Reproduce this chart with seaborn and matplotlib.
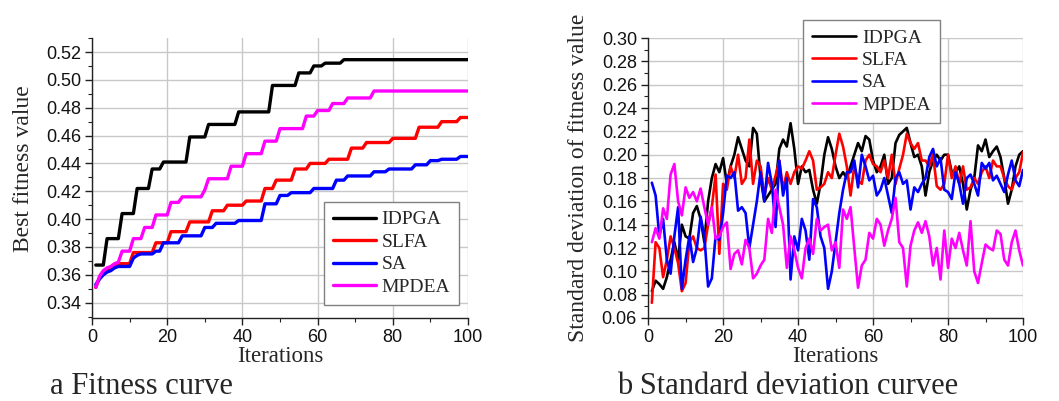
import matplotlib
matplotlib.use("Agg")
import matplotlib.pyplot as plt
from matplotlib.ticker import MultipleLocator, FormatStrFormatter
import pandas as pd
import seaborn as sns

# ---------------------------------------------------------------- data
iterations = list(range(1, 101))
algorithms = ["IDPGA", "SLFA", "SA", "MPDEA"]
palette = {"IDPGA": "#000000", "SLFA": "#ff0000", "SA": "#0000ff", "MPDEA": "#ff00ff"}

# best fitness value per iteration
best_idpga = [
    0.367, 0.367, 0.367, 0.386, 0.386, 0.386, 0.386, 0.404, 0.404, 0.404,
    0.404, 0.422, 0.422, 0.422, 0.422, 0.436, 0.436, 0.436, 0.441, 0.441,
    0.441, 0.441, 0.441, 0.441, 0.441, 0.459, 0.459, 0.459, 0.459, 0.459,
    0.468, 0.468, 0.468, 0.468, 0.468, 0.468, 0.468, 0.468, 0.477, 0.477,
    0.477, 0.477, 0.477, 0.477, 0.477, 0.477, 0.477, 0.496, 0.496, 0.496,
    0.496, 0.496, 0.496, 0.496, 0.505, 0.505, 0.505, 0.505, 0.510, 0.510,
    0.510, 0.512, 0.512, 0.512, 0.512, 0.512, 0.5145, 0.5145, 0.5145, 0.5145,
    0.5145, 0.5145, 0.5145, 0.5145, 0.5145, 0.5145, 0.5145, 0.5145, 0.5145, 0.5145,
    0.5145, 0.5145, 0.5145, 0.5145, 0.5145, 0.5145, 0.5145, 0.5145, 0.5145, 0.5145,
    0.5145, 0.5145, 0.5145, 0.5145, 0.5145, 0.5145, 0.5145, 0.5145, 0.5145, 0.5145,
]
best_slfa = [
    0.351, 0.358, 0.362, 0.364, 0.365, 0.367, 0.368, 0.368, 0.368, 0.368,
    0.376, 0.376, 0.376, 0.376, 0.376, 0.376, 0.383, 0.383, 0.383, 0.383,
    0.391, 0.391, 0.391, 0.391, 0.391, 0.398, 0.398, 0.398, 0.398, 0.398,
    0.398, 0.406, 0.406, 0.406, 0.406, 0.410, 0.410, 0.410, 0.410, 0.410,
    0.413, 0.413, 0.413, 0.413, 0.413, 0.422, 0.422, 0.422, 0.428, 0.428,
    0.428, 0.428, 0.428, 0.436, 0.436, 0.436, 0.436, 0.440, 0.440, 0.440,
    0.440, 0.440, 0.443, 0.443, 0.443, 0.443, 0.443, 0.443, 0.451, 0.451,
    0.451, 0.451, 0.455, 0.455, 0.455, 0.455, 0.455, 0.455, 0.455, 0.458,
    0.458, 0.458, 0.458, 0.458, 0.458, 0.458, 0.466, 0.466, 0.466, 0.466,
    0.466, 0.466, 0.470, 0.470, 0.470, 0.470, 0.470, 0.473, 0.473, 0.473,
]
best_sa = [
    0.353, 0.357, 0.360, 0.362, 0.363, 0.365, 0.366, 0.366, 0.366, 0.366,
    0.372, 0.374, 0.375, 0.375, 0.375, 0.375, 0.377, 0.377, 0.383, 0.383,
    0.383, 0.383, 0.383, 0.388, 0.388, 0.388, 0.388, 0.388, 0.388, 0.394,
    0.394, 0.394, 0.397, 0.397, 0.397, 0.397, 0.397, 0.397, 0.399, 0.399,
    0.399, 0.399, 0.399, 0.399, 0.399, 0.411, 0.411, 0.411, 0.411, 0.417,
    0.417, 0.417, 0.419, 0.419, 0.419, 0.419, 0.419, 0.419, 0.422, 0.422,
    0.422, 0.422, 0.422, 0.422, 0.428, 0.428, 0.428, 0.431, 0.431, 0.431,
    0.431, 0.431, 0.431, 0.431, 0.434, 0.434, 0.434, 0.434, 0.436, 0.436,
    0.436, 0.436, 0.436, 0.436, 0.436, 0.439, 0.439, 0.439, 0.439, 0.442,
    0.442, 0.442, 0.443, 0.443, 0.443, 0.443, 0.443, 0.445, 0.445, 0.445,
]
best_mpdea = [
    0.351, 0.359, 0.363, 0.365, 0.366, 0.368, 0.369, 0.377, 0.377, 0.377,
    0.386, 0.386, 0.386, 0.394, 0.394, 0.394, 0.403, 0.403, 0.403, 0.403,
    0.412, 0.412, 0.412, 0.416, 0.416, 0.416, 0.416, 0.416, 0.416, 0.421,
    0.429, 0.429, 0.429, 0.429, 0.429, 0.429, 0.438, 0.438, 0.438, 0.438,
    0.447, 0.447, 0.447, 0.447, 0.447, 0.456, 0.456, 0.456, 0.456, 0.465,
    0.465, 0.465, 0.465, 0.465, 0.465, 0.465, 0.474, 0.474, 0.474, 0.478,
    0.478, 0.478, 0.478, 0.483, 0.483, 0.483, 0.483, 0.487, 0.487, 0.487,
    0.487, 0.487, 0.487, 0.487, 0.492, 0.492, 0.492, 0.492, 0.492, 0.492,
    0.492, 0.492, 0.492, 0.492, 0.492, 0.492, 0.492, 0.492, 0.492, 0.492,
    0.492, 0.492, 0.492, 0.492, 0.492, 0.492, 0.492, 0.492, 0.492, 0.492,
]

# standard deviation of fitness value per iteration
std_idpga = [
    0.083, 0.092, 0.089, 0.085, 0.095, 0.110, 0.125, 0.110, 0.140, 0.130,
    0.128, 0.150, 0.156, 0.145, 0.125, 0.160, 0.180, 0.192, 0.185, 0.197,
    0.175, 0.190, 0.200, 0.215, 0.205, 0.195, 0.190, 0.223, 0.218, 0.180,
    0.160, 0.165, 0.170, 0.175, 0.205, 0.213, 0.207, 0.227, 0.205, 0.175,
    0.190, 0.185, 0.187, 0.170, 0.158, 0.175, 0.200, 0.215, 0.205, 0.190,
    0.180, 0.185, 0.180, 0.190, 0.200, 0.210, 0.203, 0.216, 0.213, 0.195,
    0.185, 0.190, 0.200, 0.175, 0.180, 0.210, 0.217, 0.220, 0.223, 0.210,
    0.198, 0.200, 0.190, 0.165, 0.185, 0.195, 0.200, 0.195, 0.200, 0.200,
    0.185, 0.185, 0.190, 0.175, 0.153, 0.170, 0.180, 0.208, 0.203, 0.213,
    0.198, 0.203, 0.207, 0.198, 0.180, 0.158, 0.170, 0.190, 0.200, 0.203,
]
std_slfa = [
    0.073, 0.125, 0.120, 0.095, 0.110, 0.130, 0.120, 0.107, 0.083, 0.090,
    0.125, 0.130, 0.120, 0.118, 0.120, 0.140, 0.155, 0.183, 0.115, 0.175,
    0.170, 0.190, 0.180, 0.200, 0.175, 0.180, 0.213, 0.175, 0.195, 0.190,
    0.165, 0.180, 0.170, 0.182, 0.195, 0.170, 0.185, 0.175, 0.185, 0.190,
    0.188, 0.195, 0.203, 0.195, 0.170, 0.172, 0.175, 0.185, 0.180, 0.200,
    0.218, 0.207, 0.190, 0.165, 0.190, 0.178, 0.175, 0.195, 0.200, 0.192,
    0.190, 0.185, 0.195, 0.180, 0.200, 0.175, 0.188, 0.200, 0.218, 0.210,
    0.205, 0.210, 0.195, 0.195, 0.190, 0.200, 0.173, 0.170, 0.175, 0.200,
    0.180, 0.190, 0.175, 0.190, 0.170, 0.172, 0.180, 0.175, 0.185, 0.190,
    0.180, 0.195, 0.190, 0.190, 0.180, 0.173, 0.170, 0.180, 0.185, 0.202,
]
std_sa = [
    0.176, 0.165, 0.130, 0.145, 0.110, 0.098, 0.130, 0.155, 0.085, 0.110,
    0.130, 0.108, 0.120, 0.147, 0.130, 0.087, 0.094, 0.130, 0.127, 0.150,
    0.182, 0.180, 0.185, 0.152, 0.155, 0.150, 0.120, 0.140, 0.160, 0.185,
    0.160, 0.193, 0.175, 0.138, 0.195, 0.165, 0.180, 0.093, 0.130, 0.118,
    0.145, 0.135, 0.110, 0.162, 0.155, 0.130, 0.120, 0.085, 0.100, 0.125,
    0.150, 0.170, 0.185, 0.185, 0.195, 0.172, 0.200, 0.190, 0.178, 0.182,
    0.165, 0.170, 0.180, 0.165, 0.150, 0.180, 0.185, 0.175, 0.178, 0.153,
    0.172, 0.168, 0.175, 0.180, 0.198, 0.205, 0.190, 0.197, 0.170, 0.168,
    0.162, 0.185, 0.175, 0.158, 0.180, 0.183, 0.175, 0.165, 0.193, 0.188,
    0.193, 0.178, 0.182, 0.175, 0.168, 0.183, 0.195, 0.178, 0.173, 0.187,
]
std_mpdea = [
    0.125, 0.137, 0.128, 0.154, 0.145, 0.183, 0.192, 0.160, 0.148, 0.172,
    0.163, 0.168, 0.160, 0.171, 0.155, 0.140, 0.155, 0.128, 0.130, 0.138,
    0.142, 0.102, 0.115, 0.118, 0.106, 0.127, 0.120, 0.094, 0.098, 0.105,
    0.110, 0.145, 0.133, 0.170, 0.155, 0.140, 0.103, 0.130, 0.118, 0.103,
    0.094, 0.120, 0.128, 0.115, 0.145, 0.135, 0.138, 0.140, 0.118, 0.125,
    0.103, 0.153, 0.145, 0.155, 0.120, 0.086, 0.105, 0.110, 0.133, 0.128,
    0.145, 0.140, 0.122, 0.135, 0.145, 0.163, 0.125, 0.120, 0.087, 0.122,
    0.135, 0.142, 0.133, 0.143, 0.130, 0.105, 0.120, 0.093, 0.135, 0.103,
    0.128, 0.120, 0.133, 0.118, 0.105, 0.143, 0.100, 0.090, 0.107, 0.123,
    0.120, 0.118, 0.135, 0.132, 0.110, 0.105, 0.125, 0.135, 0.118, 0.105,
]

best = {"IDPGA": best_idpga, "SLFA": best_slfa, "SA": best_sa, "MPDEA": best_mpdea}
std = {"IDPGA": std_idpga, "SLFA": std_slfa, "SA": std_sa, "MPDEA": std_mpdea}


def long_frame(series):
    rows = []
    for name in algorithms:
        for it, val in zip(iterations, series[name]):
            rows.append({"Iterations": it, "value": val, "Algorithm": name})
    return pd.DataFrame(rows)


df_best = long_frame(best)
df_std = long_frame(std)

# ---------------------------------------------------------------- style
sns.set_theme(style="white")
plt.rcParams["font.family"] = ["Liberation Sans", "DejaVu Sans"]
SERIF = ["Liberation Serif", "DejaVu Serif"]

fig = plt.figure(figsize=(10.59, 4.01), dpi=100)
ax1 = fig.add_axes([0.0869, 0.207, 0.355, 0.698])
ax2 = fig.add_axes([0.612, 0.207, 0.354, 0.698])


def style_axes(ax, ylim, ymajor):
    ax.set_xlim(0, 100)
    ax.set_ylim(*ylim)
    ax.xaxis.set_major_locator(MultipleLocator(20))
    ax.xaxis.set_minor_locator(MultipleLocator(10))
    ax.yaxis.set_major_locator(MultipleLocator(ymajor))
    ax.yaxis.set_minor_locator(MultipleLocator(ymajor / 2))
    ax.yaxis.set_major_formatter(FormatStrFormatter("%.2f"))
    ax.grid(True, which="major", color="#c8c8c8", linewidth=1.0)
    ax.set_axisbelow(True)
    for side in ("top", "right"):
        ax.spines[side].set_visible(False)
    for side in ("left", "bottom"):
        ax.spines[side].set_color("#222222")
        ax.spines[side].set_linewidth(1.0)
    ax.tick_params(which="both", direction="out", color="#222222",
                   left=True, bottom=True, labelsize=13, labelcolor="#111111")
    ax.tick_params(which="major", length=5, width=1.0, pad=3)
    ax.tick_params(which="minor", length=3, width=0.8)


# ---------------------------------------------------------------- a: best fitness
sns.lineplot(data=df_best, x="Iterations", y="value", hue="Algorithm",
             hue_order=algorithms, palette=palette, linewidth=2.4,
             sort=False, ax=ax1)
style_axes(ax1, (0.329, 0.530), 0.02)
ax1.set_xlabel("Iterations", fontsize=16.5, family=SERIF)
ax1.set_ylabel("Best fitness value", fontsize=17, family=SERIF)
ax1.xaxis.set_label_coords(0.5, -0.10)
ax1.yaxis.set_label_coords(-0.183, 0.532)
ax1.yaxis.label.set_verticalalignment("center")
h, l = ax1.get_legend_handles_labels()
leg1 = ax1.legend(h, l, loc="upper left", bbox_to_anchor=(0.617, 0.414),
                  prop={"family": SERIF, "size": 14}, handlelength=2.2,
                  handletextpad=0.3, labelspacing=0.25, borderpad=0.45,
                  borderaxespad=0, fancybox=False, framealpha=1,
                  edgecolor="#808080")
leg1.get_frame().set_linewidth(1.0)

# ---------------------------------------------------------------- b: standard deviation
sns.lineplot(data=df_std, x="Iterations", y="value", hue="Algorithm",
             hue_order=algorithms, palette=palette, linewidth=1.9,
             sort=False, ax=ax2)
style_axes(ax2, (0.06, 0.30), 0.02)
ax2.set_xlabel("Iterations", fontsize=16.5, family=SERIF)
ax2.set_ylabel("Standard deviation of fitness value", fontsize=17, family=SERIF)
ax2.xaxis.set_label_coords(0.499, -0.10)
ax2.yaxis.set_label_coords(-0.187, 0.502)
ax2.yaxis.label.set_verticalalignment("center")
h, l = ax2.get_legend_handles_labels()
leg2 = ax2.legend(h, l, loc="upper left", bbox_to_anchor=(0.413, 1.064),
                  prop={"family": SERIF, "size": 14}, handlelength=2.3,
                  handletextpad=0.3, labelspacing=0.25, borderpad=0.45,
                  borderaxespad=0, fancybox=False, framealpha=1,
                  edgecolor="#808080")
leg2.get_frame().set_linewidth(1.0)

# ---------------------------------------------------------------- captions
fig.text(50 / 1059, 0.018, "a Fitness curve", fontsize=22, family=SERIF,
         ha="left", va="baseline")
fig.text(617 / 1059, 0.018, "b Standard deviation curvee", fontsize=22,
         family=SERIF, ha="left", va="baseline")

fig.savefig("out.png", dpi=100)
